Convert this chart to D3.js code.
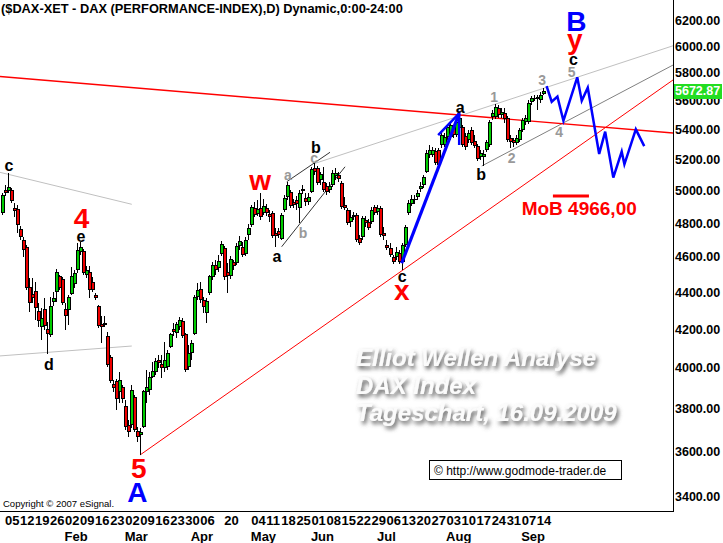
<!DOCTYPE html>
<html>
<head>
<meta charset="utf-8">
<script src="https://cdn.jsdelivr.net/npm/d3@7"></script>
<style>
  body { margin: 0; background: #fff; }
  svg { display: block; font-family: "Liberation Sans", Arial, sans-serif; }
</style>
</head>
<body>
<div id="chart"></div>
<script>
// trading calendar (Xetra 2009)
const firstDay = "2009-01-02", lastDay = "2009-09-16";
const holidays = ["2009-04-10", "2009-04-13", "2009-05-01"];

// daily OHLC
const open = [
  4862,5004,4998,5004,4892,4886,4764,4698,4657,4428,
  4389,4405,4297,4211,4308,4200,4168,4345,4400,4490,
  4473,4308,4302,4389,4445,4524,4628,4634,4496,4513,
  4456,4384,4324,4227,4232,4163,4054,3919,3933,3879,
  3904,3811,3721,3721,3855,3693,3675,3712,3879,3889,
  3953,3978,4039,4019,3998,4004,4106,4200,4179,4211,
  4243,4173,4004,4074,4173,4373,4417,4356,4286,4395,
  4485,4553,4536,4617,4652,4513,4490,4570,4564,4663,
  4657,4617,4728,4788,4892,4855,4892,4861,4892,4855,
  4861,4740,4752,4704,4880,4960,4991,4929,4941,4892,
  5010,4954,4929,4991,5145,5145,5068,5055,5030,5004,
  5036,5093,5100,5049,4911,4880,4806,4849,4849,4710,
  4716,4818,4806,4806,4898,4867,4892,4740,4669,4652,
  4599,4599,4622,4570,4669,4861,4917,4941,4960,5010,
  5036,5119,5230,5230,5256,5263,5296,5296,5350,5350,
  5411,5363,5411,5418,5357,5330,5397,5323,5290,5217,
  5217,5263,5296,5486,5486,5549,5500,5514,5480,5343,
  5330,5310,5330,5397,5452,5452,5591,5612,5612,5605,5648
];
const high = [
  4985,5036,5113,5017,4923,4911,4782,4716,4669,4479,
  4479,4456,4340,4313,4367,4237,4373,4400,4530,4496,
  4485,4340,4384,4541,4524,4681,4687,4646,4547,4547,
  4485,4395,4329,4270,4270,4184,4064,3938,3943,3978,
  3914,3840,3745,3914,3865,3712,3707,3889,3988,3978,
  4029,4049,4064,4064,4132,4090,4179,4232,4237,4264,
  4259,4179,4116,4142,4384,4450,4456,4373,4367,4496,
  4570,4582,4611,4692,4663,4564,4605,4582,4681,4722,
  4687,4716,4794,4911,4929,4941,4985,4948,4917,4880,
  4874,4770,4770,4861,4973,5055,5004,4948,4966,5004,
  5036,4985,4985,5151,5184,5158,5119,5151,5049,5055,
  5132,5145,5119,5062,4960,4892,4880,4867,4861,4728,
  4843,4843,4824,4898,4911,4911,4904,4776,4698,4681,
  4611,4657,4640,4681,4788,4941,4973,4973,5004,5055,
  5100,5263,5296,5283,5276,5276,5377,5377,5432,5452,
  5432,5466,5514,5432,5377,5397,5418,5363,5303,5263,
  5263,5330,5466,5535,5577,5570,5549,5549,5493,5363,
  5343,5363,5411,5480,5500,5605,5634,5641,5641,5662,5690
];
const low = [
  4849,4967,4985,4923,4837,4740,4698,4599,4411,4291,
  4340,4248,4211,4142,4195,4069,4158,4324,4345,4411,
  4329,4195,4221,4384,4422,4507,4611,4496,4479,4367,
  4400,4356,4205,4126,4211,4004,3924,3879,3792,3826,
  3826,3698,3666,3707,3689,3642,3584,3707,3826,3865,
  3948,3963,3998,3948,3978,3988,4101,4163,4152,4195,
  4152,3978,3988,4039,4168,4356,4340,4286,4232,4384,
  4468,4496,4513,4605,4468,4395,4473,4524,4553,4640,
  4599,4605,4698,4776,4837,4843,4818,4849,4843,4806,
  4710,4657,4710,4698,4867,4941,4892,4892,4880,4800,
  4979,4904,4911,4985,5100,5036,5036,4991,4973,4985,
  5023,5068,5055,4886,4880,4788,4776,4818,4687,4669,
  4698,4776,4758,4794,4849,4849,4716,4698,4640,4599,
  4559,4582,4559,4524,4657,4849,4904,4917,4941,4991,
  5017,5113,5210,5217,5164,5151,5276,5283,5330,5330,
  5343,5350,5397,5283,5263,5310,5296,5276,5191,5197,
  5158,5250,5283,5466,5473,5480,5480,5446,5316,5276,
  5283,5296,5316,5384,5432,5439,5570,5598,5535,5584,5641
];
const close = [
  4973,4985,5023,4935,4874,4788,4716,4640,4422,4340,
  4367,4313,4243,4259,4216,4173,4324,4367,4513,4422,
  4340,4270,4373,4490,4507,4640,4657,4507,4524,4411,
  4411,4367,4216,4211,4221,4014,3933,3899,3845,3938,
  3845,3712,3689,3889,3698,3666,3689,3884,3904,3953,
  3983,4034,4024,3998,4039,4074,4173,4184,4227,4248,
  4163,3988,4074,4126,4373,4411,4356,4318,4351,4490,
  4553,4524,4576,4675,4485,4490,4588,4547,4663,4692,
  4611,4698,4770,4898,4849,4886,4837,4904,4861,4837,
  4722,4722,4728,4849,4954,5036,4904,4911,4917,4985,
  4998,4929,4960,5138,5119,5049,5106,5004,4991,5030,
  5113,5113,5074,4898,4892,4800,4837,4837,4698,4681,
  4830,4800,4770,4880,4861,4892,4728,4722,4652,4611,
  4570,4628,4570,4669,4776,4923,4948,4948,4985,5030,
  5087,5243,5263,5263,5177,5164,5363,5350,5418,5432,
  5363,5452,5480,5296,5283,5377,5310,5290,5204,5243,
  5237,5316,5452,5514,5556,5500,5521,5473,5330,5316,
  5310,5343,5397,5466,5480,5584,5619,5619,5627,5641,5672.87
];
const lastPrice = 5672.87;

const priceTicks = [3400, 3600, 3800, 4000, 4200, 4400, 4600, 4800, 5000, 5200, 5400, 5600, 5800, 6000, 6200];
const weekTicks = [
  "2009-01-05","2009-01-12","2009-01-19","2009-01-26","2009-02-02","2009-02-09","2009-02-16","2009-02-23",
  "2009-03-02","2009-03-09","2009-03-16","2009-03-23","2009-03-30","2009-04-06","2009-04-20",
  "2009-05-04","2009-05-11","2009-05-18","2009-05-25","2009-06-01","2009-06-08","2009-06-15","2009-06-22","2009-06-29",
  "2009-07-06","2009-07-13","2009-07-20","2009-07-27","2009-08-03","2009-08-10","2009-08-17","2009-08-24","2009-08-31",
  "2009-09-07","2009-09-14"
];
const monthNames = ["Feb", "Mar", "Apr", "May", "Jun", "Jul", "Aug", "Sep"];
const monthStarts = ["2009-02-02","2009-03-02","2009-04-01","2009-05-04","2009-06-01","2009-07-01","2009-08-03","2009-09-07"];

// drawn lines, as [trading-day index, price] points
const redDownTrend = [[-0.67, 5774], [223.4, 5377]];
const redUpTrend = [[46, 3584], [223.4, 5749]];
const greyJanTop = [[-0.67, 5117], [43.2, 4915]];
const greyJanBottom = [[-0.67, 4060], [43.2, 4111]];
const greyUpper = [[104.2, 5175], [223.4, 6002]];
const greyChannel = [[159.7, 5158], [223.4, 5858]];
const wedgeUpper = [[94.8, 5057], [109.2, 5248]];
const wedgeLower = [[93.1, 4659], [114.2, 5153]];
const blueImpulse = [[133.05, 4563], [152.2, 5512]];
const blueArrowHead = [[145.2, 5363], [152.2, 5512], [152.2, 5296]];
const blueForecast = [[181.3,5705],[183.0,5593],[184.9,5629],[186.9,5461],[191.5,5768],[193.0,5600],[195.0,5693],
  [198.8,5237],[200.8,5386],[203.5,5083],[206.3,5252],[207.2,5169],[211.0,5402],[213.8,5289]];
const mobLevel = 4966;
const mobSpan = [183.4, 195.4];

// wave labels: [text, day index, price at baseline]
const blackLabels = [["c",2.3,5126],["d",15.6,3988],["e",26.3,4686],["a",91.5,4570],["b",104.5,5243],
  ["c",133.2,4455],["a",152.5,5514],["b",159.5,5068],["c",190.2,5858]];
const greyLabels = [["a",95.2,5068],["b",100.2,4710],["c",103.9,5177],["1",163.8,5591],["2",169.7,5177],
  ["3",179.8,5712],["4",185.5,5350],["5",189.6,5770]];
const redLabels = [["4",26.5,4770],["5",45.5,3481],["w",85.9,5004],["x",133.1,4355],["y",190.7,5980]];
const blueLabels = [["A",45.1,3378],["B",191.2,6115]];

const width = 723, height = 543;
const plotRight = 673, plotBottom = 511;
const upColor = "#00cc00", downColor = "#ee0000";

const fmt = d3.timeFormat("%Y-%m-%d");
const parse = d3.timeParse("%Y-%m-%d");
const days = d3.timeDay.range(parse(firstDay), d3.timeDay.offset(parse(lastDay), 1))
  .filter(d => d.getDay() !== 0 && d.getDay() !== 6 && !holidays.includes(fmt(d)))
  .map(fmt);

const x = d3.scaleLinear().domain([0, days.length - 1]).range([2, 542.7]);
const y = d3.scaleLog().domain([3400, 6200]).range([496.7, 20]);

const svg = d3.select("#chart").append("svg")
  .attr("width", width)
  .attr("height", height);

const defs = svg.append("defs");
defs.append("clipPath").attr("id", "plot")
  .append("rect").attr("x", 0).attr("y", 0).attr("width", plotRight).attr("height", plotBottom);
const shadow = defs.append("filter").attr("id", "shadow")
  .attr("x", "-10%").attr("y", "-40%").attr("width", "125%").attr("height", "190%");
shadow.append("feGaussianBlur").attr("in", "SourceAlpha").attr("stdDeviation", 2.2).attr("result", "blur");
shadow.append("feOffset").attr("in", "blur").attr("dx", 2).attr("dy", 3).attr("result", "off");
shadow.append("feFlood").attr("flood-color", "#555");
shadow.append("feComposite").attr("in2", "off").attr("operator", "in").attr("result", "sh");
const merge = shadow.append("feMerge");
merge.append("feMergeNode").attr("in", "sh");
merge.append("feMergeNode").attr("in", "SourceGraphic");

svg.append("rect").attr("width", width).attr("height", height).attr("fill", "#fff");

// watermark
const wm = svg.append("g").attr("filter", "url(#shadow)")
  .style("font-size", "24px").style("font-weight", "bold").style("font-style", "italic")
  .attr("fill", "#fbfbfb");
[["Elliot Wellen Analyse", 366], ["DAX Index", 394], ["Tageschart, 16.09.2009", 421]].forEach(r => {
  wm.append("text").attr("x", 356).attr("y", r[1]).text(r[0]);
});

const plot = svg.append("g").attr("clip-path", "url(#plot)");
const line = d3.line().x(d => x(d[0])).y(d => y(d[1]));

function drawLine(pts, color, w) {
  plot.append("path").datum(pts).attr("d", line)
    .attr("fill", "none").attr("stroke", color).attr("stroke-width", w);
}

drawLine(greyJanTop, "#c0c0c0", 1);
drawLine(greyJanBottom, "#c0c0c0", 1);
drawLine(greyUpper, "#c0c0c0", 1);
drawLine(greyChannel, "#808080", 1);
drawLine(wedgeUpper, "#000", 0.8);
drawLine(wedgeLower, "#000", 0.8);
drawLine(redDownTrend, "#ff0000", 1.4);
drawLine(redUpTrend, "#ff0000", 1);

// candles
const candles = plot.append("g").attr("shape-rendering", "crispEdges");
const idx = d3.range(days.length);
candles.selectAll(".wick").data(idx).join("rect")
  .attr("class", "wick")
  .attr("x", i => Math.round(x(i)))
  .attr("y", i => Math.round(y(high[i])))
  .attr("width", 1)
  .attr("height", i => Math.max(1, Math.round(y(low[i])) - Math.round(y(high[i]))))
  .attr("fill", "#000");
const bodyTop = i => Math.round(y(Math.max(open[i], close[i])));
const bodyBot = i => Math.max(bodyTop(i) + 1, Math.round(y(Math.min(open[i], close[i]))));
candles.selectAll(".body").data(idx).join("rect")
  .attr("class", "body")
  .attr("x", i => Math.round(x(i)) - 1)
  .attr("y", bodyTop)
  .attr("width", 4)
  .attr("height", i => bodyBot(i) - bodyTop(i))
  .attr("fill", "#000");
candles.selectAll(".fill").data(idx.filter(i => bodyBot(i) - bodyTop(i) > 2)).join("rect")
  .attr("class", "fill")
  .attr("x", i => Math.round(x(i)))
  .attr("y", i => bodyTop(i) + 1)
  .attr("width", 2)
  .attr("height", i => bodyBot(i) - bodyTop(i) - 2)
  .attr("fill", i => close[i] >= open[i] ? upColor : downColor);

// blue wave drawing
drawLine(blueImpulse, "#0000ff", 3.2);
drawLine(blueArrowHead, "#0000ff", 2.5);
drawLine(blueForecast, "#0000ff", 2.5);
plot.append("line")
  .attr("x1", x(mobSpan[0])).attr("x2", x(mobSpan[1]))
  .attr("y1", y(mobLevel)).attr("y2", y(mobLevel))
  .attr("stroke", "#ff0000").attr("stroke-width", 3);

// labels
function drawLabels(list, color, size, weight) {
  plot.append("g").selectAll("text").data(list).join("text")
    .attr("x", d => x(d[1])).attr("y", d => y(d[2]))
    .attr("text-anchor", "middle")
    .attr("fill", color)
    .style("font-size", size + "px").style("font-weight", weight)
    .text(d => d[0]);
}
drawLabels(greyLabels, "#999999", 14, "bold");
drawLabels(blackLabels, "#000", 16, "bold");
drawLabels(redLabels, "#ff0000", 28, "bold");
drawLabels(blueLabels, "#0000ff", 28, "bold");

svg.append("text")
  .attr("x", x(173)).attr("y", 215)
  .attr("fill", "#ff0000")
  .style("font-size", "19px").style("font-weight", "bold")
  .text("MoB " + d3.format(".2f")(mobLevel).replace(".", ","));

// frame
svg.append("line").attr("x1", plotRight + 0.5).attr("x2", plotRight + 0.5).attr("y1", 0).attr("y2", plotBottom + 1)
  .attr("stroke", "#000");
svg.append("line").attr("x1", 0).attr("x2", plotRight + 1).attr("y1", plotBottom + 0.5).attr("y2", plotBottom + 0.5)
  .attr("stroke", "#000");

// price axis
svg.append("g").selectAll("text").data(priceTicks).join("text")
  .attr("x", 675).attr("y", d => y(d) + 4.5)
  .style("font-size", "12.5px").style("font-weight", "bold")
  .text(d => d3.format(".2f")(d));

const lp = y(lastPrice);
svg.append("rect").attr("x", plotRight + 1).attr("y", Math.round(lp) - 7).attr("width", 48).attr("height", 15)
  .attr("fill", "#22dd22");
svg.append("text").attr("x", 675).attr("y", lp + 4.5)
  .attr("fill", "#fff")
  .style("font-size", "12.5px").style("font-weight", "bold")
  .text(d3.format(".2f")(lastPrice));

// date axis
svg.append("g").selectAll("text").data(weekTicks).join("text")
  .attr("x", d => x(days.indexOf(d)))
  .attr("y", 525)
  .style("font-size", "13px").style("font-weight", "bold")
  .text(d => d.slice(8));
svg.append("g").selectAll("text").data(monthNames).join("text")
  .attr("x", (d, k) => x(days.indexOf(monthStarts[k])) - 0.5)
  .attr("y", 541)
  .style("font-size", "13px").style("font-weight", "bold")
  .text(d => d);

// titles and credits
svg.append("text").attr("x", 1).attr("y", 12.5)
  .style("font-size", "12.8px").style("font-weight", "bold")
  .text("($DAX-XET - DAX (PERFORMANCE-INDEX),D) Dynamic,0:00-24:00");
svg.append("text").attr("x", 3).attr("y", 507)
  .style("font-size", "9.5px")
  .text("Copyright \u00a9 2007 eSignal.");
svg.append("rect").attr("x", 429.5).attr("y", 460.5).attr("width", 192).attr("height", 19)
  .attr("fill", "#fff").attr("stroke", "#000");
svg.append("text").attr("x", 434).attr("y", 474.5)
  .style("font-size", "12px")
  .text("\u00a9 http://www.godmode-trader.de");
</script>
</body>
</html>
